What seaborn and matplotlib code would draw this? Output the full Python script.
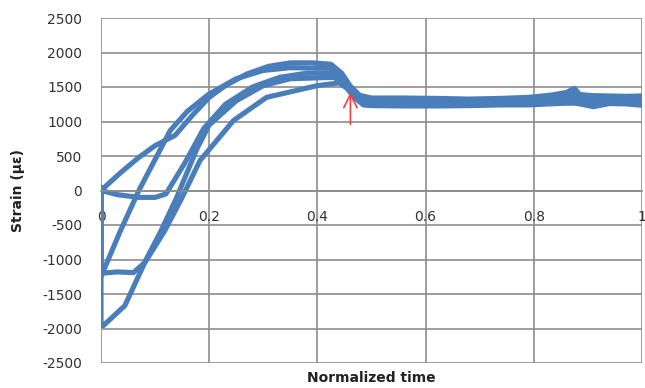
import matplotlib
matplotlib.use("Agg")
import matplotlib.pyplot as plt
import seaborn as sns
import pandas as pd

# ---------------- data ----------------
# Curve A: starts at 0, rises fastest (top envelope early)
time_a = [0.0, 0.035, 0.07, 0.10, 0.137, 0.17, 0.20, 0.23, 0.27, 0.31, 0.35, 0.39, 0.425, 0.445, 0.46, 0.478,
          0.50, 0.56, 0.62, 0.68, 0.74, 0.79, 0.83, 0.86, 0.875, 0.885, 0.91, 0.94, 0.97, 1.0]
strain_a = [0, 250, 480, 650, 800, 1100, 1350, 1520, 1690, 1800, 1850, 1850, 1830, 1700, 1520, 1380,
            1340, 1340, 1335, 1325, 1335, 1350, 1380, 1420, 1480, 1390, 1375, 1370, 1365, 1370]

# Curve B: starts at 0, dips slightly, then rises
time_b = [0.0, 0.03, 0.07, 0.10, 0.12, 0.155, 0.19, 0.23, 0.28, 0.33, 0.38, 0.43, 0.448, 0.462, 0.48,
          0.50, 0.56, 0.62, 0.68, 0.74, 0.79, 0.83, 0.86, 0.875, 0.885, 0.91, 0.94, 0.97, 1.0]
strain_b = [0, -60, -100, -100, -50, 400, 900, 1250, 1500, 1640, 1700, 1700, 1600, 1440, 1300,
            1285, 1285, 1280, 1275, 1285, 1295, 1310, 1340, 1370, 1320, 1320, 1315, 1315, 1320]

# Curve C: starts near -1250, rises steeply
time_c = [0.0, 0.0, 0.035, 0.07, 0.10, 0.128, 0.16, 0.20, 0.25, 0.30, 0.35, 0.425, 0.445, 0.46, 0.478,
          0.50, 0.56, 0.62, 0.68, 0.74, 0.79, 0.83, 0.86, 0.875, 0.885, 0.91, 0.94, 0.97, 1.0]
strain_c = [50, -1250, -600, 0, 450, 870, 1150, 1400, 1620, 1740, 1780, 1770, 1650, 1480, 1340,
            1315, 1310, 1305, 1295, 1305, 1325, 1345, 1375, 1415, 1355, 1345, 1340, 1340, 1345]

# Curve D: starts near -1200, flat, then rises
time_d = [0.0, 0.0, 0.03, 0.06, 0.08, 0.11, 0.14, 0.177, 0.20, 0.25, 0.30, 0.35, 0.43, 0.448, 0.464, 0.482,
          0.50, 0.56, 0.62, 0.68, 0.74, 0.79, 0.83, 0.86, 0.875, 0.885, 0.91, 0.94, 0.97, 1.0]
strain_d = [0, -1200, -1180, -1190, -1050, -600, -100, 600, 950, 1300, 1520, 1620, 1640, 1560, 1400, 1270,
            1255, 1250, 1250, 1250, 1260, 1265, 1280, 1300, 1320, 1290, 1290, 1290, 1285, 1290]

# Curve E: starts near -1950, rises linearly
time_e = [0.0, 0.0, 0.004, 0.044, 0.08, 0.118, 0.15, 0.183, 0.245, 0.306, 0.40, 0.44, 0.455, 0.468, 0.485,
          0.50, 0.56, 0.62, 0.68, 0.74, 0.79, 0.83, 0.86, 0.875, 0.885, 0.91, 0.94, 0.97, 1.0]
strain_e = [0, -1950, -1960, -1670, -1060, -580, -100, 435, 1015, 1350, 1520, 1560, 1480, 1350, 1240,
            1230, 1225, 1225, 1230, 1240, 1240, 1255, 1265, 1265, 1255, 1215, 1260, 1255, 1235]

x_ticks = [0, 0.2, 0.4, 0.6, 0.8, 1.0]
x_tick_labels = ["0", "0.2", "0.4", "0.6", "0.8", "1"]
y_ticks = [-2500, -2000, -1500, -1000, -500, 0, 500, 1000, 1500, 2000, 2500]

arrow_t = 0.461
arrow_tip = 1460
arrow_tail = 917

# ---------------- build table ----------------
frames = []
for name, t, s in [("A", time_a, strain_a), ("B", time_b, strain_b), ("C", time_c, strain_c),
                   ("D", time_d, strain_d), ("E", time_e, strain_e)]:
    frames.append(pd.DataFrame({"time": t, "strain": s, "cycle": name}))
df = pd.concat(frames, ignore_index=True)

sns.set_theme(style="white")
plt.rcParams["font.family"] = ["DejaVu Sans"]

fig = plt.figure(figsize=(6.45, 3.88), dpi=100)
ax = fig.add_axes([101 / 645, 1 - 363 / 388, 541 / 645, 345 / 388])

blue = "#4A7EBB"
sns.lineplot(data=df, x="time", y="strain", units="cycle", estimator=None, sort=False,
             color=blue, linewidth=3.7, ax=ax, legend=False, solid_capstyle="round",
             solid_joinstyle="round")

ax.set_xlim(0, 1)
ax.set_ylim(-2500, 2500)
ax.set_xticks(x_ticks)
ax.set_xticklabels(x_tick_labels)
ax.set_yticks(y_ticks)
ax.set_yticklabels([str(v) for v in y_ticks])

grid_col = "#8C8C8C"
ax.grid(True, color=grid_col, linewidth=1.2)
ax.set_axisbelow(True)
for side in ["top", "right", "left"]:
    ax.spines[side].set_visible(False)
ax.spines["bottom"].set_position(("data", 0))
ax.spines["bottom"].set_color(grid_col)
ax.spines["bottom"].set_linewidth(1.2)

ax.tick_params(axis="x", length=0, pad=14, labelsize=10, colors="#333333")
ax.tick_params(axis="y", length=0, pad=13.5, labelsize=10, colors="#333333")

ax.set_xlabel("")
ax.set_ylabel("")
fig.text((101 + 642) / 2 / 645, 1 - 378 / 388, "Normalized time", ha="center", va="center",
         fontsize=10, fontweight="bold", color="#222222")
fig.text(18 / 645, 1 - 190 / 388, "Strain (με)", ha="center", va="center", rotation=90,
         fontsize=10, fontweight="bold", color="#222222")

ax.annotate("", xy=(arrow_t, arrow_tip), xytext=(arrow_t, arrow_tail),
            arrowprops=dict(arrowstyle="->,head_length=0.8,head_width=0.4", color="#FF3B3B", lw=1.2))

fig.savefig("out.png", dpi=100)
